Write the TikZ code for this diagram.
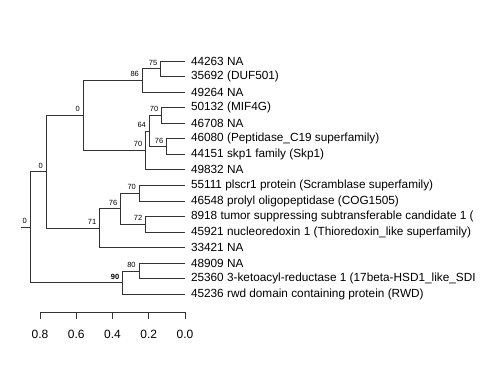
\documentclass[tikz,border=0pt]{standalone}
\usepackage{fontspec}
\setmainfont{Liberation Sans}
\begin{document}
\begin{tikzpicture}[x=1pt,y=-1pt,
  edge/.style={draw=black!80,line width=0.85pt},
  leaflab/.style={anchor=west,inner sep=0pt,font=\fontsize{11.8}{13}\selectfont},
  boot/.style={anchor=base east,inner sep=0pt,font=\fontsize{7.5}{8}\selectfont},
  axlab/.style={anchor=base,inner sep=0pt,font=\fontsize{12}{14}\selectfont}]
\useasboundingbox (0,0) rectangle (480,384);
% leaves
\coordinate (l0) at (185,61);
\coordinate (l1) at (185,76.55);
\coordinate (l2) at (185,92.1);
\coordinate (l3) at (185,107.65);
\coordinate (l4) at (185,123.2);
\coordinate (l5) at (185,138.75);
\coordinate (l6) at (185,154.3);
\coordinate (l7) at (185,169.85);
\coordinate (l8) at (185,185.4);
\coordinate (l9) at (185,200.95);
\coordinate (l10) at (185,216.5);
\coordinate (l11) at (185,232.05);
\coordinate (l12) at (185,247.6);
\coordinate (l13) at (185,263.15);
\coordinate (l14) at (185,278.7);
\coordinate (l15) at (185,294.25);
% internal nodes
\coordinate (R) at (30.3,227.19);
\coordinate (Rs) at (20.7,227.19);
\coordinate (A) at (46.3,171.79);
\coordinate (B) at (122.7,282.59);
\coordinate (C) at (83.3,115.43);
\coordinate (D) at (99.7,228.16);
\coordinate (E) at (142.3,80.44);
\coordinate (F) at (145.7,150.41);
\coordinate (G) at (160.7,68.78);
\coordinate (H) at (149.3,130.98);
\coordinate (I) at (161.7,115.43);
\coordinate (J) at (166.7,146.53);
\coordinate (K) at (120.7,208.73);
\coordinate (L) at (139.3,193.18);
\coordinate (M) at (145.7,224.28);
\coordinate (N) at (139.0,270.93);
% edges
\draw[edge] (Rs) -- (R);
\draw[edge] (R) |- (A); \draw[edge] (R) |- (B);
\draw[edge] (A) |- (C); \draw[edge] (A) |- (D);
\draw[edge] (C) |- (E); \draw[edge] (C) |- (F);
\draw[edge] (E) |- (G); \draw[edge] (E) |- (l2);
\draw[edge] (G) |- (l0); \draw[edge] (G) |- (l1);
\draw[edge] (F) |- (H); \draw[edge] (F) |- (l7);
\draw[edge] (H) |- (I); \draw[edge] (H) |- (J);
\draw[edge] (I) |- (l3); \draw[edge] (I) |- (l4);
\draw[edge] (J) |- (l5); \draw[edge] (J) |- (l6);
\draw[edge] (D) |- (K); \draw[edge] (D) |- (l12);
\draw[edge] (K) |- (L); \draw[edge] (K) |- (M);
\draw[edge] (L) |- (l8); \draw[edge] (L) |- (l9);
\draw[edge] (M) |- (l10); \draw[edge] (M) |- (l11);
\draw[edge] (B) |- (N); \draw[edge] (B) |- (l15);
\draw[edge] (N) |- (l13); \draw[edge] (N) |- (l14);
% leaf labels
\node[leaflab] (t0) at ([xshift=5.8pt]l0) {44263 NA};
\node[leaflab] (t1) at ([xshift=5.8pt]l1) {35692 (DUF501)};
\node[leaflab] (t2) at ([xshift=5.8pt]l2) {49264 NA};
\node[leaflab] (t3) at ([xshift=5.8pt]l3) {50132 (MIF4G)};
\node[leaflab] (t4) at ([xshift=5.8pt]l4) {46708 NA};
\node[leaflab] (t5) at ([xshift=5.8pt]l5) {46080 (Peptidase\_C19 superfamily)};
\node[leaflab] (t6) at ([xshift=5.8pt]l6) {44151 skp1 family (Skp1)};
\node[leaflab] (t7) at ([xshift=5.8pt]l7) {49832 NA};
\node[leaflab] (t8) at ([xshift=5.8pt]l8) {55111 plscr1 protein (Scramblase superfamily)};
\node[leaflab] (t9) at ([xshift=5.8pt]l9) {46548 prolyl oligopeptidase (COG1505)};
\node[leaflab] (t10) at ([xshift=5.8pt]l10) {8918 tumor suppressing subtransferable candidate 1 (};
\node[leaflab] (t11) at ([xshift=5.8pt]l11) {45921 nucleoredoxin 1 (Thioredoxin\_like superfamily)};
\node[leaflab] (t12) at ([xshift=5.8pt]l12) {33421 NA};
\node[leaflab] (t13) at ([xshift=5.8pt]l13) {48909 NA};
\node[leaflab] (t14) at ([xshift=5.8pt]l14) {25360 3-ketoacyl-reductase 1 (17beta-HSD1\_like\_SDI};
\node[leaflab] (t15) at ([xshift=5.8pt]l15) {45236 rwd domain containing protein (RWD)};
% bootstrap labels
\node[boot] (bR) at ([xshift=-3.2pt,yshift=3.5pt]R) {0};
\node[boot] (bA) at ([xshift=-3.2pt,yshift=3.5pt]A) {0};
\node[boot] (bC) at ([xshift=-3.2pt,yshift=3.5pt]C) {0};
\node[boot] (bE) at ([xshift=-3.2pt,yshift=3.5pt]E) {86};
\node[boot] (bG) at ([xshift=-3.2pt,yshift=3.5pt]G) {75};
\node[boot] (bF) at ([xshift=-3.2pt,yshift=3.5pt]F) {70};
\node[boot] (bH) at ([xshift=-3.2pt,yshift=3.5pt]H) {64};
\node[boot] (bI) at ([xshift=-3.2pt,yshift=3.5pt]I) {70};
\node[boot] (bJ) at ([xshift=-3.2pt,yshift=3.5pt]J) {76};
\node[boot] (bD) at ([xshift=-3.2pt,yshift=3.5pt]D) {71};
\node[boot] (bK) at ([xshift=-3.2pt,yshift=3.5pt]K) {76};
\node[boot] (bL) at ([xshift=-3.2pt,yshift=3.5pt]L) {70};
\node[boot] (bM) at ([xshift=-3.2pt,yshift=3.5pt]M) {72};
\node[boot,font=\fontsize{7.5}{8}\selectfont\bfseries] (bB) at ([xshift=-3.2pt,yshift=3.5pt]B) {90};
\node[boot] (bN) at ([xshift=-3.2pt,yshift=3.5pt]N) {80};
% axis
\coordinate (a8) at (40,312);
\coordinate (a6) at (76.25,312);
\coordinate (a4) at (112.5,312);
\coordinate (a2) at (148.75,312);
\coordinate (a0) at (185,312);
\draw[edge] (a8) -- (a0);
\foreach \p/\t in {a8/0.8,a6/0.6,a4/0.4,a2/0.2,a0/0.0}{
  \draw[edge] (\p) -- ++(0,7);
  \node[axlab] (lab\p) at ([yshift=-26.3pt]\p) {\t};
}
\end{tikzpicture}
\end{document}
